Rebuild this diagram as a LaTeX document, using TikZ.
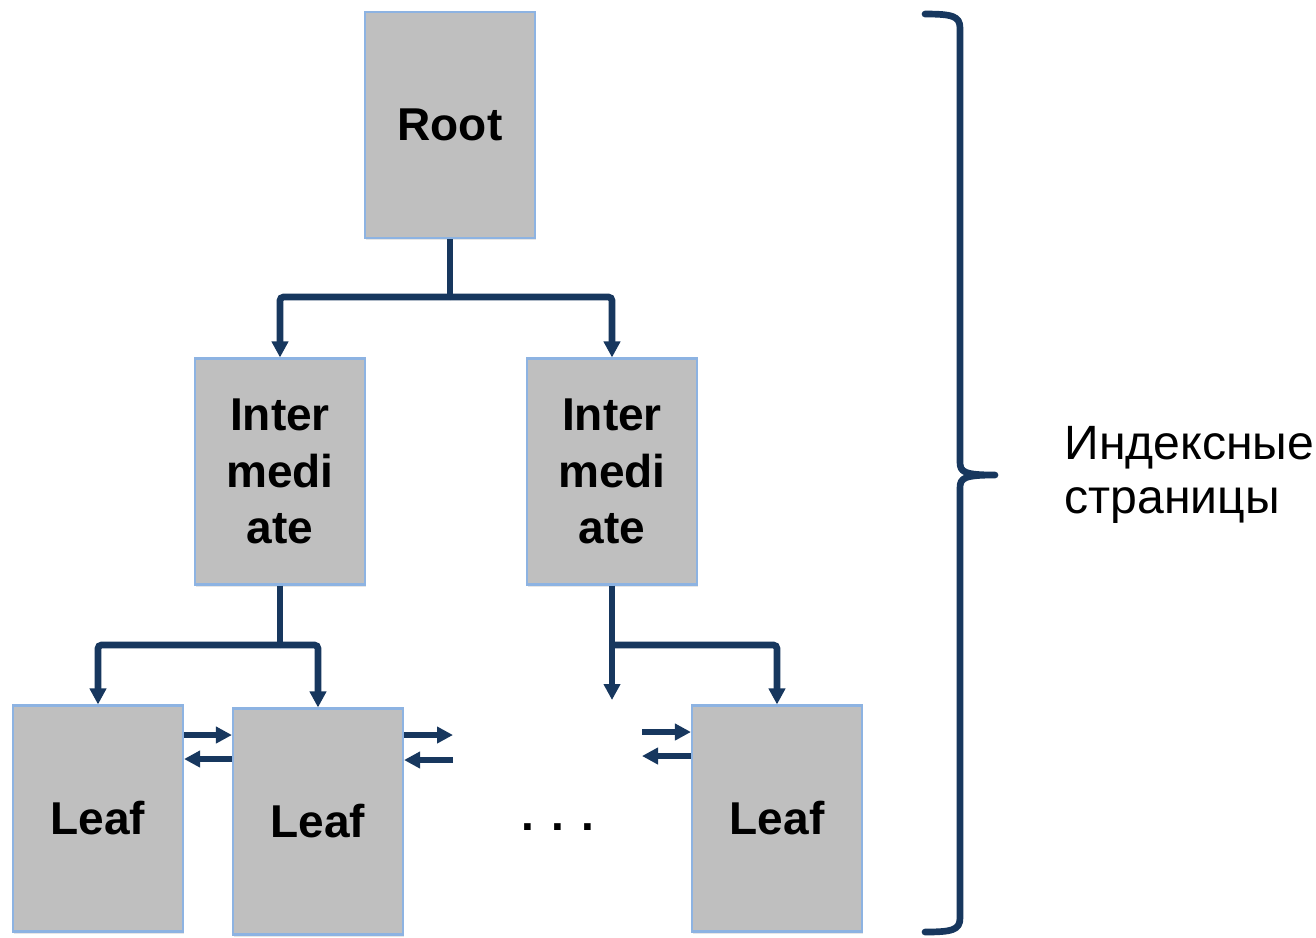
\documentclass[tikz,border=0pt]{standalone}
\usepackage{fontspec}
\setmainfont{Liberation Sans}
\usetikzlibrary{arrows.meta,shadows}
\definecolor{navy}{HTML}{17375E}
\definecolor{boxgray}{HTML}{BFBFBF}
\definecolor{boxline}{HTML}{8DB3E2}
\begin{document}
\begin{tikzpicture}[box style/.style={rectangle, draw=boxline, fill=boxgray, line width=0.6pt, minimum width=1.70cm, minimum height=2.26cm, align=center, font=\fontsize{13.1}{16}\selectfont\bfseries, drop shadow={opacity=0.2, shadow xshift=0.4pt, shadow yshift=-0.6pt}}, link style/.style={draw=navy, line width=1.9pt, rounded corners=1pt, -{Triangle[width=0.16cm, length=0.16cm]}}, plain link/.style={draw=navy, line width=1.9pt}, index style/.style={align=left, anchor=west, font=\fontsize{13.7}{15.6}\selectfont}]
	\useasboundingbox (0, 0) rectangle (13.16, -9.37);
	\node[box style] (B1) at (4.50, -1.25) {Root};
	\node[box style] (B2) at (2.80, -4.715) {Inter\\medi\\ate};
	\node[box style] (B3) at (6.12, -4.715) {Inter\\medi\\ate};
	\node[box style] (B4) at (0.98, -8.185) {Leaf};
	\node[box style] (B5) at (3.18, -8.215) {Leaf};
	\node[box style] (B6) at (7.77, -8.185) {Leaf};
	\node[font=\fontsize{13.1}{16}\selectfont\bfseries, anchor=base] (D1) at (5.58, -8.30) {. . .};
	\coordinate (J1) at (4.50, -2.97);
	\coordinate (J2) at (2.80, -6.45);
	\coordinate (J3) at (6.12, -6.45);
	\coordinate (E1) at (6.12, -7.00);
	\coordinate (E2) at (4.53, -7.35);
	\coordinate (E3) at (4.53, -7.60);
	\coordinate (E4) at (6.42, -7.32);
	\coordinate (E5) at (6.42, -7.56);
	% tree links
	\draw[plain link] (B1) -- (J1);
	\draw[link style] (J1) -| (B2);
	\draw[link style] (J1) -| (B3);
	\draw[plain link] (B2) -- (J2);
	\draw[link style] (J2) -| (B4);
	\draw[link style] (J2) -| (B5);
	\draw[plain link] (B3) -- (J3);
	\draw[link style] (J3) -- (E1);
	\draw[link style] (J3) -| (B6);
	% sibling links
	\draw[link style] (B4.east |- 0,-7.35) -- (B5.west |- 0,-7.35);
	\draw[link style] (B5.west |- 0,-7.59) -- (B4.east |- 0,-7.59);
	\draw[link style] (B5.east |- E2) -- (E2);
	\draw[link style] (E3) -- (B5.east |- E3);
	\draw[link style] (E4) -- (B6.west |- E4);
	\draw[link style] (B6.west |- E5) -- (E5);
	% brace over all pages
	\coordinate (T1) at (9.25, -0.14);
	\coordinate (T2) at (9.25, -9.32);
	\coordinate (T3) at (9.95, -4.75);
	\draw[plain link, line cap=round, line join=round] (T1) .. controls (9.52, -0.14) and (9.60, -0.16) .. (9.60, -0.28) -- (9.60, -4.62) .. controls (9.60, -4.72) and (9.64, -4.75) .. (T3) .. controls (9.64, -4.75) and (9.60, -4.78) .. (9.60, -4.88) -- (9.60, -9.18) .. controls (9.60, -9.30) and (9.52, -9.32) .. (T2);
	\node[index style] (S1) at (10.52, -4.75) {Индексные\\страницы};
\end{tikzpicture}
\end{document}
